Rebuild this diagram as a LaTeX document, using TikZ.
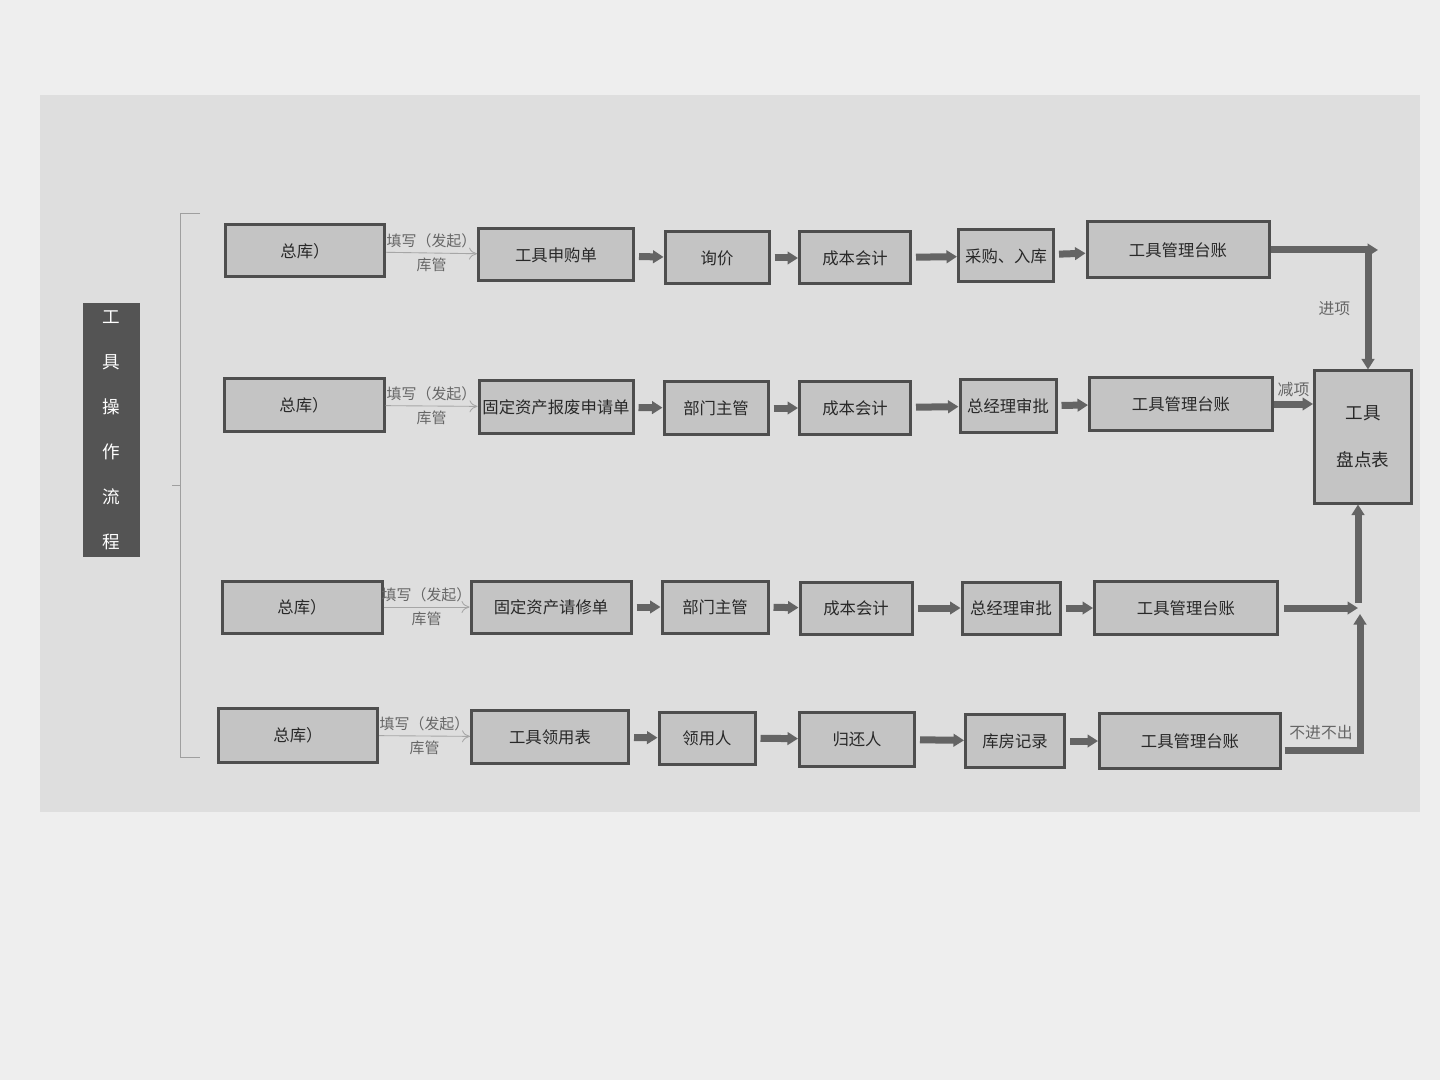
\documentclass[tikz,border=0pt]{standalone}
\usepackage{fontspec}
\setmainfont{Noto Sans CJK SC}
\usepackage{tikz}
\usetikzlibrary{positioning, arrows.meta}

\definecolor{paper}{RGB}{238,238,238}
\definecolor{panel}{RGB}{222,222,222}
\definecolor{boxfill}{RGB}{196,196,196}
\definecolor{boxline}{RGB}{78,78,78}
\definecolor{flowgray}{RGB}{100,100,100}
\definecolor{inkgray}{RGB}{40,40,40}
\definecolor{titlefill}{RGB}{84,84,84}

\tikzset{
    bw/.style={minimum width=#1*0.2mm},
    bh/.style={minimum height=#1*0.2mm},
    box/.style={draw=boxline, fill=boxfill, line width=0.6mm, inner sep=1pt,
        minimum height=10.4mm, text=inkgray, font=\fontsize{9.3}{11}\selectfont},
    flow/.style={draw=flowgray, line width=1.4mm,
        -{Triangle[width=2.5mm,length=2.1mm]}},
    fillin/.style={draw=gray!70, line width=0.5pt, -{To[length=1.6mm,width=2.4mm]}},
    lbl/.style={text=gray!80!black, font=\fontsize{8.5}{10}\selectfont, inner sep=1pt},
}

\begin{document}
\begin{tikzpicture}[x=0.2mm, y=-0.2mm]
        \useasboundingbox (0,0) rectangle (1440,1080);
        \fill[paper] (0,0) rectangle (1440,1080);
        \fill[panel] (40,95) rectangle (1420,812);

        % title and bracket
        \node[fill=titlefill, text=white, bw=57, bh=253, inner sep=0pt, align=center,
            font=\fontsize{10}{25.6}\selectfont] (title) at (111,430) {工\\具\\操\\作\\流\\程};
        \draw[gray!75, line width=0.5pt] (200,213) -- (180,213) -- (180,757) -- (200,757);
        \draw[gray!75, line width=0.5pt] (180,485) -- (172,485);

        % row 1
        \node[box, bw=159] (zk1) at (305,251) {总库）};
        \node[box, bw=155] (sgd) at (556,255) {工具申购单};
        \node[box, bw=104] (xj) at (717,258) {询价};
        \node[box, bw=111] (cb1) at (855,258) {成本会计};
        \node[box, bw=95] (cg) at (1006,256) {采购、入库};
        \node[box, bw=182, bh=56] (tz1) at (1178,250) {工具管理台账};

        % row 2
        \node[box, bw=160] (zk2) at (304,405) {总库）};
        \node[box, bw=154] (bfd) at (556,407) {固定资产报废申请单};
        \node[box, bw=104] (bm2) at (716,408) {部门主管};
        \node[box, bw=111] (cb2) at (855,408) {成本会计};
        \node[box, bw=96] (zjl2) at (1008,406) {总经理审批};
        \node[box, bw=183, bh=53] (tz2) at (1181,404) {工具管理台账};

        % row 3
        \node[box, bw=160] (zk3) at (302,607) {总库）};
        \node[box, bw=160] (wxd) at (551,607) {固定资产请修单};
        \node[box, bw=106] (bm3) at (715,607) {部门主管};
        \node[box, bw=112] (cb3) at (856,608) {成本会计};
        \node[box, bw=98] (zjl3) at (1011,608) {总经理审批};
        \node[box, bw=183, bh=53] (tz3) at (1186,608) {工具管理台账};

        % row 4
        \node[box, bw=159, bh=54] (zk4) at (298,735) {总库）};
        \node[box, bw=157, bh=53] (lyb) at (550,737) {工具领用表};
        \node[box, bw=96] (lyr) at (707,738) {领用人};
        \node[box, bw=115, bh=54] (ghr) at (857,739) {归还人};
        \node[box, bw=99, bh=53] (kf) at (1015,741) {库房记录};
        \node[box, bw=181, bh=55] (tz4) at (1190,741) {工具管理台账};

        % inventory sheet
        \node[box, bw=97, bh=132, align=center, font=\fontsize{10}{27}\selectfont] (pd) at (1363,437) {工具\\盘点表};

        % fill-in arrows
        \foreach \src/\dst in {zk1/sgd, zk2/bfd, zk3/wxd, zk4/lyb}
            \draw[fillin] (\src) -- (\dst)
                node[midway, above=0.5mm, lbl] {填写（发起）}
                node[midway, below=0.5mm, lbl] {库管};

        % flow arrows
        \foreach \src/\dst in {sgd/xj, xj/cb1, cb1/cg, cg/tz1,
                               bfd/bm2, bm2/cb2, cb2/zjl2, zjl2/tz2,
                               wxd/bm3, bm3/cb3, cb3/zjl3, zjl3/tz3,
                               lyb/lyr, lyr/ghr, ghr/kf, kf/tz4}
            \draw[flow, shorten <=0.8mm] (\src) -- (\dst);

        % into the inventory sheet
        \coordinate (n1) at (1378,248);
        \coordinate (v1) at (1368,248);
        \draw[flow] (tz1) -- (tz1 -| n1);
        \draw[flow] (v1) -- (v1 |- pd.north)
            node[pos=0.5, left=2.5mm, lbl, font=\fontsize{9}{11}\selectfont] {进项};
        \draw[flow] (tz2) -- (tz2 -| pd.west)
            node[midway, above=0.3mm, lbl, font=\fontsize{9}{11}\selectfont] {减项};

        \coordinate (j3) at (1358,603);
        \coordinate (j4) at (1360,750);
        \coordinate (j4t) at (1360,614);
        \draw[flow, shorten <=1mm] (tz3) -- (tz3 -| j3);
        \draw[flow] (j3) -- (j3 |- pd.south);
        \draw[flow, shorten <=0.5mm] (tz4.east |- j4) -- (j4) -- (j4t);
        \node[lbl, font=\fontsize{9}{11}\selectfont, anchor=south] (bjbc) at (1321,742) {不进不出};
    \end{tikzpicture}
\end{document}
